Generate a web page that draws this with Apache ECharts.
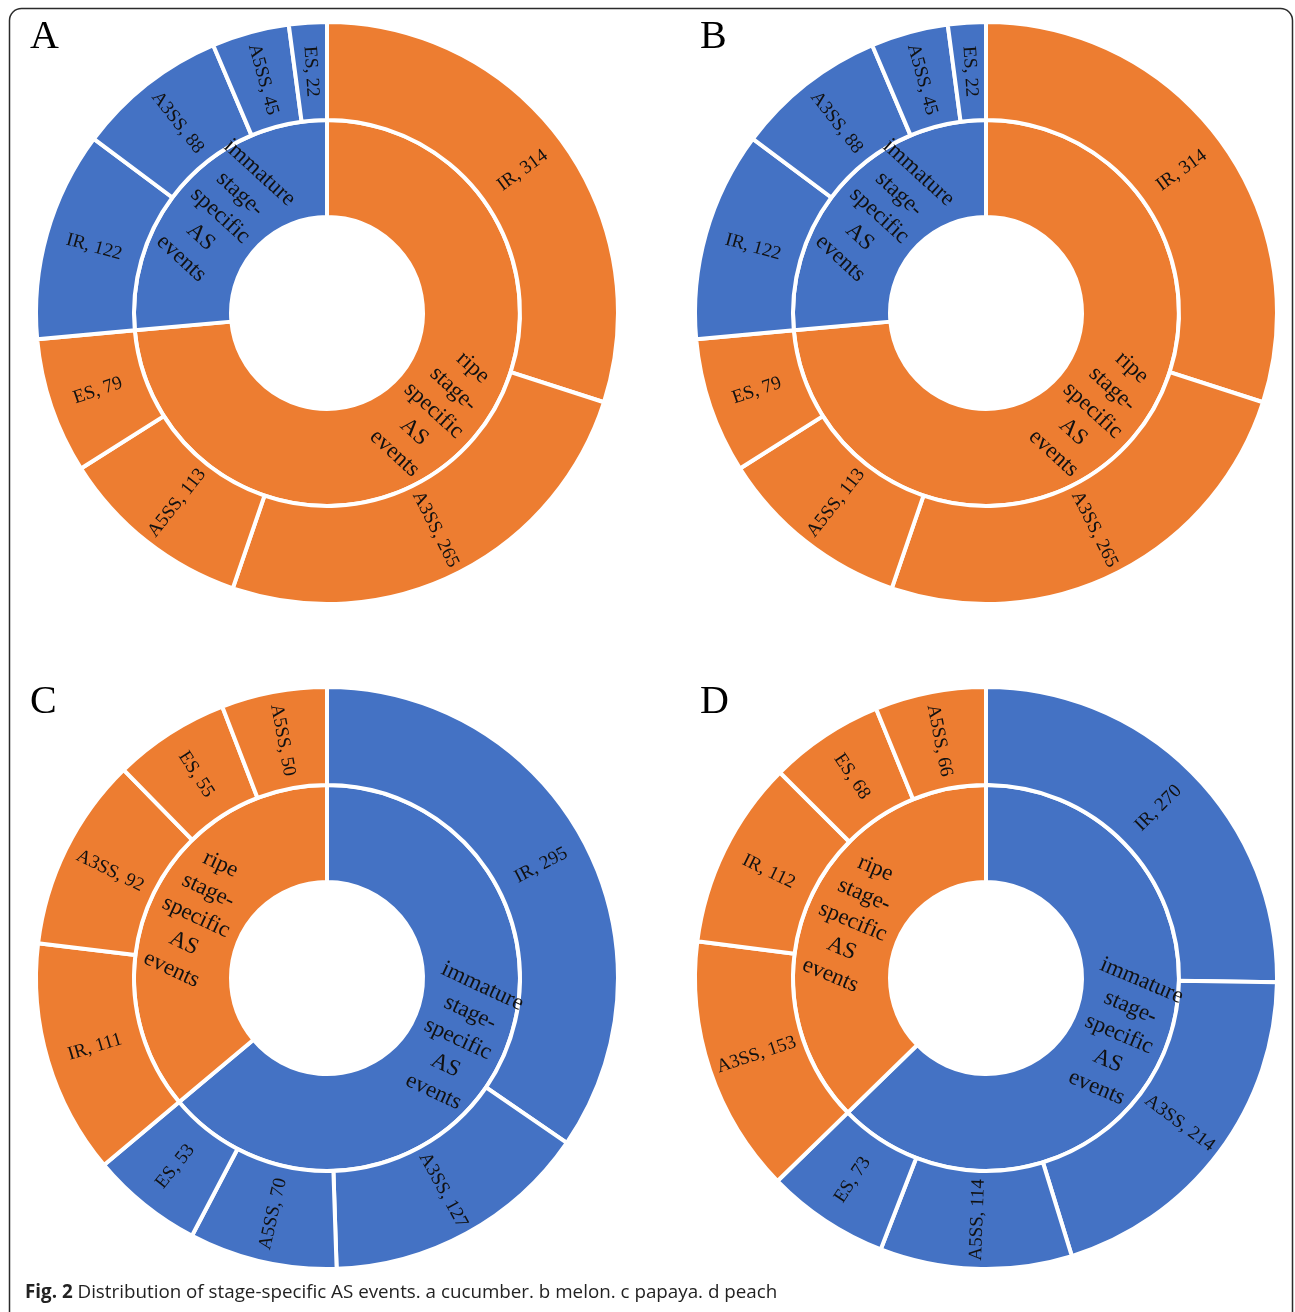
<!DOCTYPE html>
<html>
<head>
<meta charset="utf-8">
<title>Distribution of stage-specific AS events</title>
<script src="https://cdn.jsdelivr.net/npm/echarts@6/dist/echarts.min.js"></script>
<style>
  html, body { margin: 0; padding: 0; background: #ffffff; }
  #fig { width: 1295px; height: 1312px; }
</style>
</head>
<body>
<div id="fig"></div>
<script>
// Stage labels and colours
const RIPE = 'ripe stage-specific AS events';
const IMMATURE = 'immature stage-specific AS events';
const ripeColor = '#ED7D31';
const immatureColor = '#4472C4';

const panelLetters = ['A', 'B', 'C', 'D'];

// a: cucumber
const cucumberRipeTypes = ['IR', 'A3SS', 'A5SS', 'ES'];
const cucumberRipeCounts = [314, 265, 113, 79];
const cucumberImmatureTypes = ['IR', 'A3SS', 'A5SS', 'ES'];
const cucumberImmatureCounts = [122, 88, 45, 22];

// b: melon
const melonRipeTypes = ['IR', 'A3SS', 'A5SS', 'ES'];
const melonRipeCounts = [314, 265, 113, 79];
const melonImmatureTypes = ['IR', 'A3SS', 'A5SS', 'ES'];
const melonImmatureCounts = [122, 88, 45, 22];

// c: papaya
const papayaImmatureTypes = ['IR', 'A3SS', 'A5SS', 'ES'];
const papayaImmatureCounts = [295, 127, 70, 53];
const papayaRipeTypes = ['IR', 'A3SS', 'ES', 'A5SS'];
const papayaRipeCounts = [111, 92, 55, 50];

// d: peach
const peachImmatureTypes = ['IR', 'A3SS', 'A5SS', 'ES'];
const peachImmatureCounts = [270, 214, 114, 73];
const peachRipeTypes = ['A3SS', 'IR', 'ES', 'A5SS'];
const peachRipeCounts = [153, 112, 68, 66];

const captionBold = 'Fig. 2';
const captionText = 'Distribution of stage-specific AS events. a cucumber. b melon. c papaya. d peach';

// Group order around each ring, clockwise from 12 o'clock
const panels = [
  [
    { name: RIPE, color: ripeColor, types: cucumberRipeTypes, counts: cucumberRipeCounts },
    { name: IMMATURE, color: immatureColor, types: cucumberImmatureTypes, counts: cucumberImmatureCounts }
  ],
  [
    { name: RIPE, color: ripeColor, types: melonRipeTypes, counts: melonRipeCounts },
    { name: IMMATURE, color: immatureColor, types: melonImmatureTypes, counts: melonImmatureCounts }
  ],
  [
    { name: IMMATURE, color: immatureColor, types: papayaImmatureTypes, counts: papayaImmatureCounts },
    { name: RIPE, color: ripeColor, types: papayaRipeTypes, counts: papayaRipeCounts }
  ],
  [
    { name: IMMATURE, color: immatureColor, types: peachImmatureTypes, counts: peachImmatureCounts },
    { name: RIPE, color: ripeColor, types: peachRipeTypes, counts: peachRipeCounts }
  ]
];

const centers = [[327, 313], [986, 313], [327, 978], [986, 978]];
const letterPos = [[30, 57], [700, 57], [30, 722], [700, 722]];

const serif = '"Liberation Serif", "Times New Roman", serif';

function buildTree(groups) {
  return groups.map(g => ({
    name: g.name,
    itemStyle: { color: g.color },
    children: g.types.map((t, i) => ({
      name: t,
      value: g.counts[i],
      itemStyle: { color: g.color }
    }))
  }));
}

const series = panels.map((groups, k) => ({
  type: 'sunburst',
  center: centers[k],
  radius: [96, 291],
  sort: null,
  startAngle: 90,
  clockwise: true,
  nodeClick: false,
  animation: false,
  emphasis: { disabled: true },
  itemStyle: { borderColor: '#ffffff', borderWidth: 4 },
  data: buildTree(groups),
  levels: [
    {},
    {
      r0: 96, r: 193,
      label: {
        rotate: 'radial',
        color: '#111',
        fontFamily: serif,
        fontSize: 23,
        lineHeight: 29,
        align: 'center',
        verticalAlign: 'middle',
        textBorderWidth: 0,
        formatter: p => p.name.replace('stage-specific', 'stage-\nspecific').replace(/ /g, '\n')
      }
    },
    {
      r0: 193, r: 291,
      label: {
        rotate: 'radial',
        color: '#111',
        fontFamily: serif,
        fontSize: 19,
        align: 'center',
        verticalAlign: 'middle',
        textBorderWidth: 0,
        formatter: p => p.name + ', ' + p.value
      }
    }
  ]
}));

// Caption: bold figure number followed by the regular text
const captionFontSize = 18.8;
const ctx = document.createElement('canvas').getContext('2d');
ctx.font = 'bold ' + captionFontSize + 'px "Open Sans"';
const boldWidth = ctx.measureText(captionBold + ' ').width;

const graphics = [
  {
    type: 'rect',
    silent: true,
    shape: { x: 9.5, y: 8.5, width: 1283, height: 1330, r: 12 },
    style: { fill: 'none', stroke: '#2b2b2b', lineWidth: 1.5 }
  },
  {
    type: 'text',
    x: 25, y: 1293,
    style: {
      text: captionBold,
      font: 'bold ' + captionFontSize + 'px "Open Sans"',
      fill: '#222',
      textVerticalAlign: 'middle'
    }
  },
  {
    type: 'text',
    x: 25 + boldWidth, y: 1293,
    style: {
      text: captionText,
      font: captionFontSize + 'px "Open Sans"',
      fill: '#222',
      textVerticalAlign: 'middle'
    }
  }
].concat(panelLetters.map((L, k) => ({
  type: 'text',
  x: letterPos[k][0], y: letterPos[k][1],
  style: {
    text: L,
    font: '40px ' + serif,
    fill: '#000',
    textVerticalAlign: 'bottom'
  }
})));

const chart = echarts.init(document.getElementById('fig'), null, { renderer: 'canvas' });
chart.setOption({
  animation: false,
  backgroundColor: '#ffffff',
  graphic: graphics,
  series: series
});
</script>
</body>
</html>
